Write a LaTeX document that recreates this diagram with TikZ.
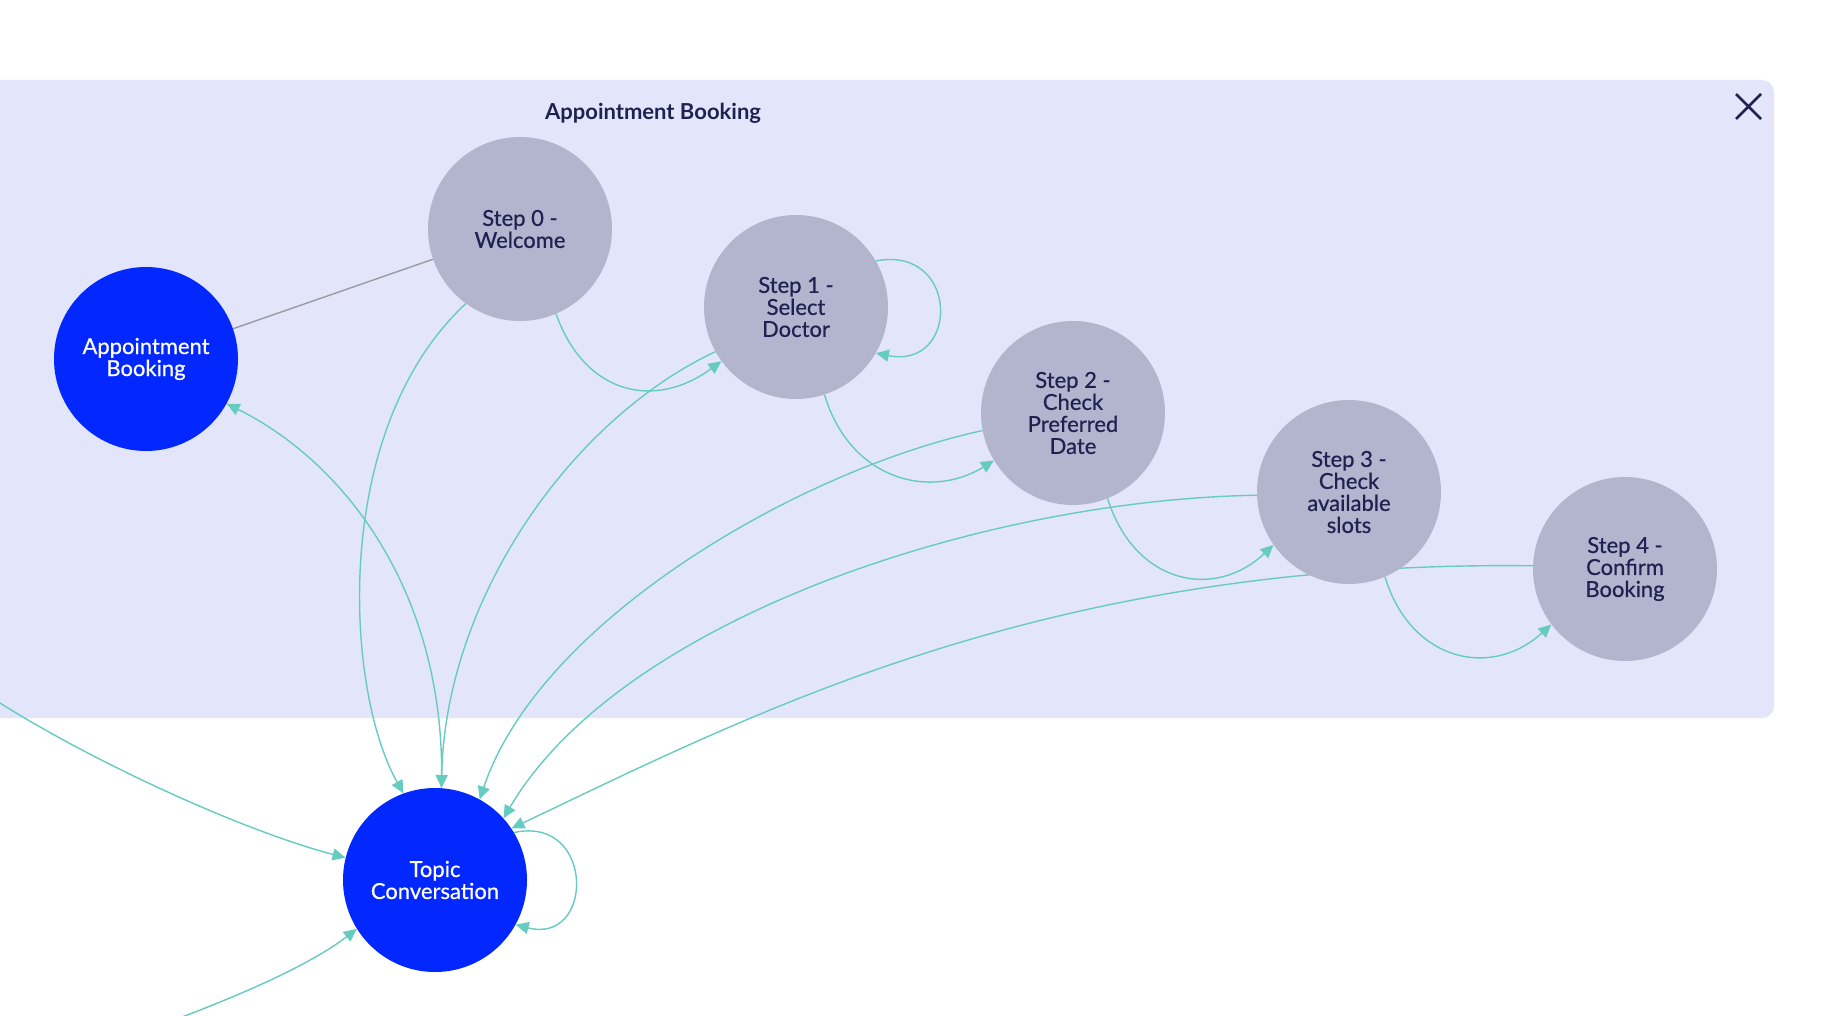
\documentclass[tikz,border=0pt]{standalone}
\usepackage{fontspec}
\setmainfont{Lato}
\newfontfamily\nodefont[FakeBold=0.6]{Lato}
\usetikzlibrary{arrows.meta}
\definecolor{panel}{HTML}{E3E6FA}
\definecolor{greynode}{HTML}{B3B4CE}
\definecolor{bluenode}{HTML}{0328FF}
\definecolor{navy}{HTML}{1F2250}
\definecolor{teal}{HTML}{66CCC0}
\definecolor{greyline}{HTML}{9A9AA6}
\tikzset{
  ghost/.style={circle, minimum size=184pt, inner sep=0pt},
  stepnode/.style={circle, fill=greynode, minimum size=184pt, inner sep=0pt,
    align=center, text=navy, font=\nodefont\fontsize{22}{22}\selectfont},
  topicnode/.style={circle, fill=bluenode, minimum size=184pt, inner sep=0pt,
    align=center, text=white, font=\nodefont\fontsize{22}{22}\selectfont},
  flow/.style={draw=teal, line width=1.4pt,
    -{Triangle[length=13pt,width=12pt]}, color=teal},
  plainlink/.style={draw=greyline, line width=1.4pt},
}
\begin{document}
\begin{tikzpicture}[x=1pt,y=-1pt]
\useasboundingbox (0,0) rectangle (1844,1016);
\fill[white] (0,0) rectangle (1844,1016);
\fill[panel, rounded corners=12pt] (-20,80) rectangle (1774,718);
\node[text=navy, font=\bfseries\fontsize{22}{24}\selectfont] (title) at (653,113) {Appointment Booking};
\coordinate (xa) at (1736,94);
\coordinate (xb) at (1761,119);
\coordinate (xc) at (1736,119);
\coordinate (xd) at (1761,94);
\draw[navy, line width=2.6pt] (xa) -- (xb) (xc) -- (xd);

% free ends of connectors entering from outside
\coordinate (leftin) at (0,703);
\coordinate (bottomin) at (182,1017);

% node centres
\path
  (146,359) coordinate (pAB)
  (520,229) coordinate (pS0)
  (796,307) coordinate (pS1)
  (1073,413) coordinate (pS2)
  (1349,492) coordinate (pS3)
  (1625,569) coordinate (pS4)
  (435,880) coordinate (pTC);

% node geometry for edge anchors
\node[ghost] (AB) at (pAB) {};
\node[ghost] (S0) at (pS0) {};
\node[ghost] (S1) at (pS1) {};
\node[ghost] (S2) at (pS2) {};
\node[ghost] (S3) at (pS3) {};
\node[ghost] (S4) at (pS4) {};
\node[ghost] (TC) at (pTC) {};

% connectors
\draw[plainlink] (AB) -- (S0);
\draw[flow] (S0.234) .. controls (330,430) and (345,690) .. (TC.110);
\draw[flow] (TC.86) .. controls (447,600) and (350,465) .. (AB.331);
\draw[flow] (S1.209) .. controls (570,420) and (445,600) .. (TC.86);
\draw[flow] (S0.293) .. controls (585,395) and (655,410) .. (S1.216);
\draw[flow] (S1.30) .. controls (960,245) and (960,370) .. (S1.-30);
\draw[flow] (S1.288) .. controls (850,480) and (930,500) .. (S2.211);
\draw[flow] (S2.191) .. controls (800,470) and (540,620) .. (TC.61);
\draw[flow] (S2.292) .. controls (1135,585) and (1215,600) .. (S3.215);
\draw[flow] (S3.182) .. controls (980,500) and (620,620) .. (TC.42);
\draw[flow] (S4.178) .. controls (1050,560) and (760,710) .. (TC.34);
\draw[flow] (S3.293) .. controls (1410,660) and (1490,680) .. (S4.217);
\draw[flow] (TC.31) .. controls (595,815) and (595,945) .. (TC.-29);
\draw[flow] (leftin) .. controls (90,760) and (240,830) .. (TC.166);
\draw[flow] (bottomin) .. controls (240,995) and (310,965) .. (TC.212);

% visible nodes on top
\node[topicnode] (ABv) at (pAB) {Appointment\\Booking};
\node[stepnode] (S0v) at (pS0) {Step 0 -\\Welcome};
\node[stepnode] (S1v) at (pS1) {Step 1 -\\Select\\Doctor};
\node[stepnode] (S2v) at (pS2) {Step 2 -\\Check\\Preferred\\Date};
\node[stepnode] (S3v) at (pS3) {Step 3 -\\Check\\available\\slots};
\node[stepnode] (S4v) at (pS4) {Step 4 -\\Confirm\\Booking};
\node[topicnode] (TCv) at (pTC) {Topic\\Conversation};
\end{tikzpicture}
\end{document}
